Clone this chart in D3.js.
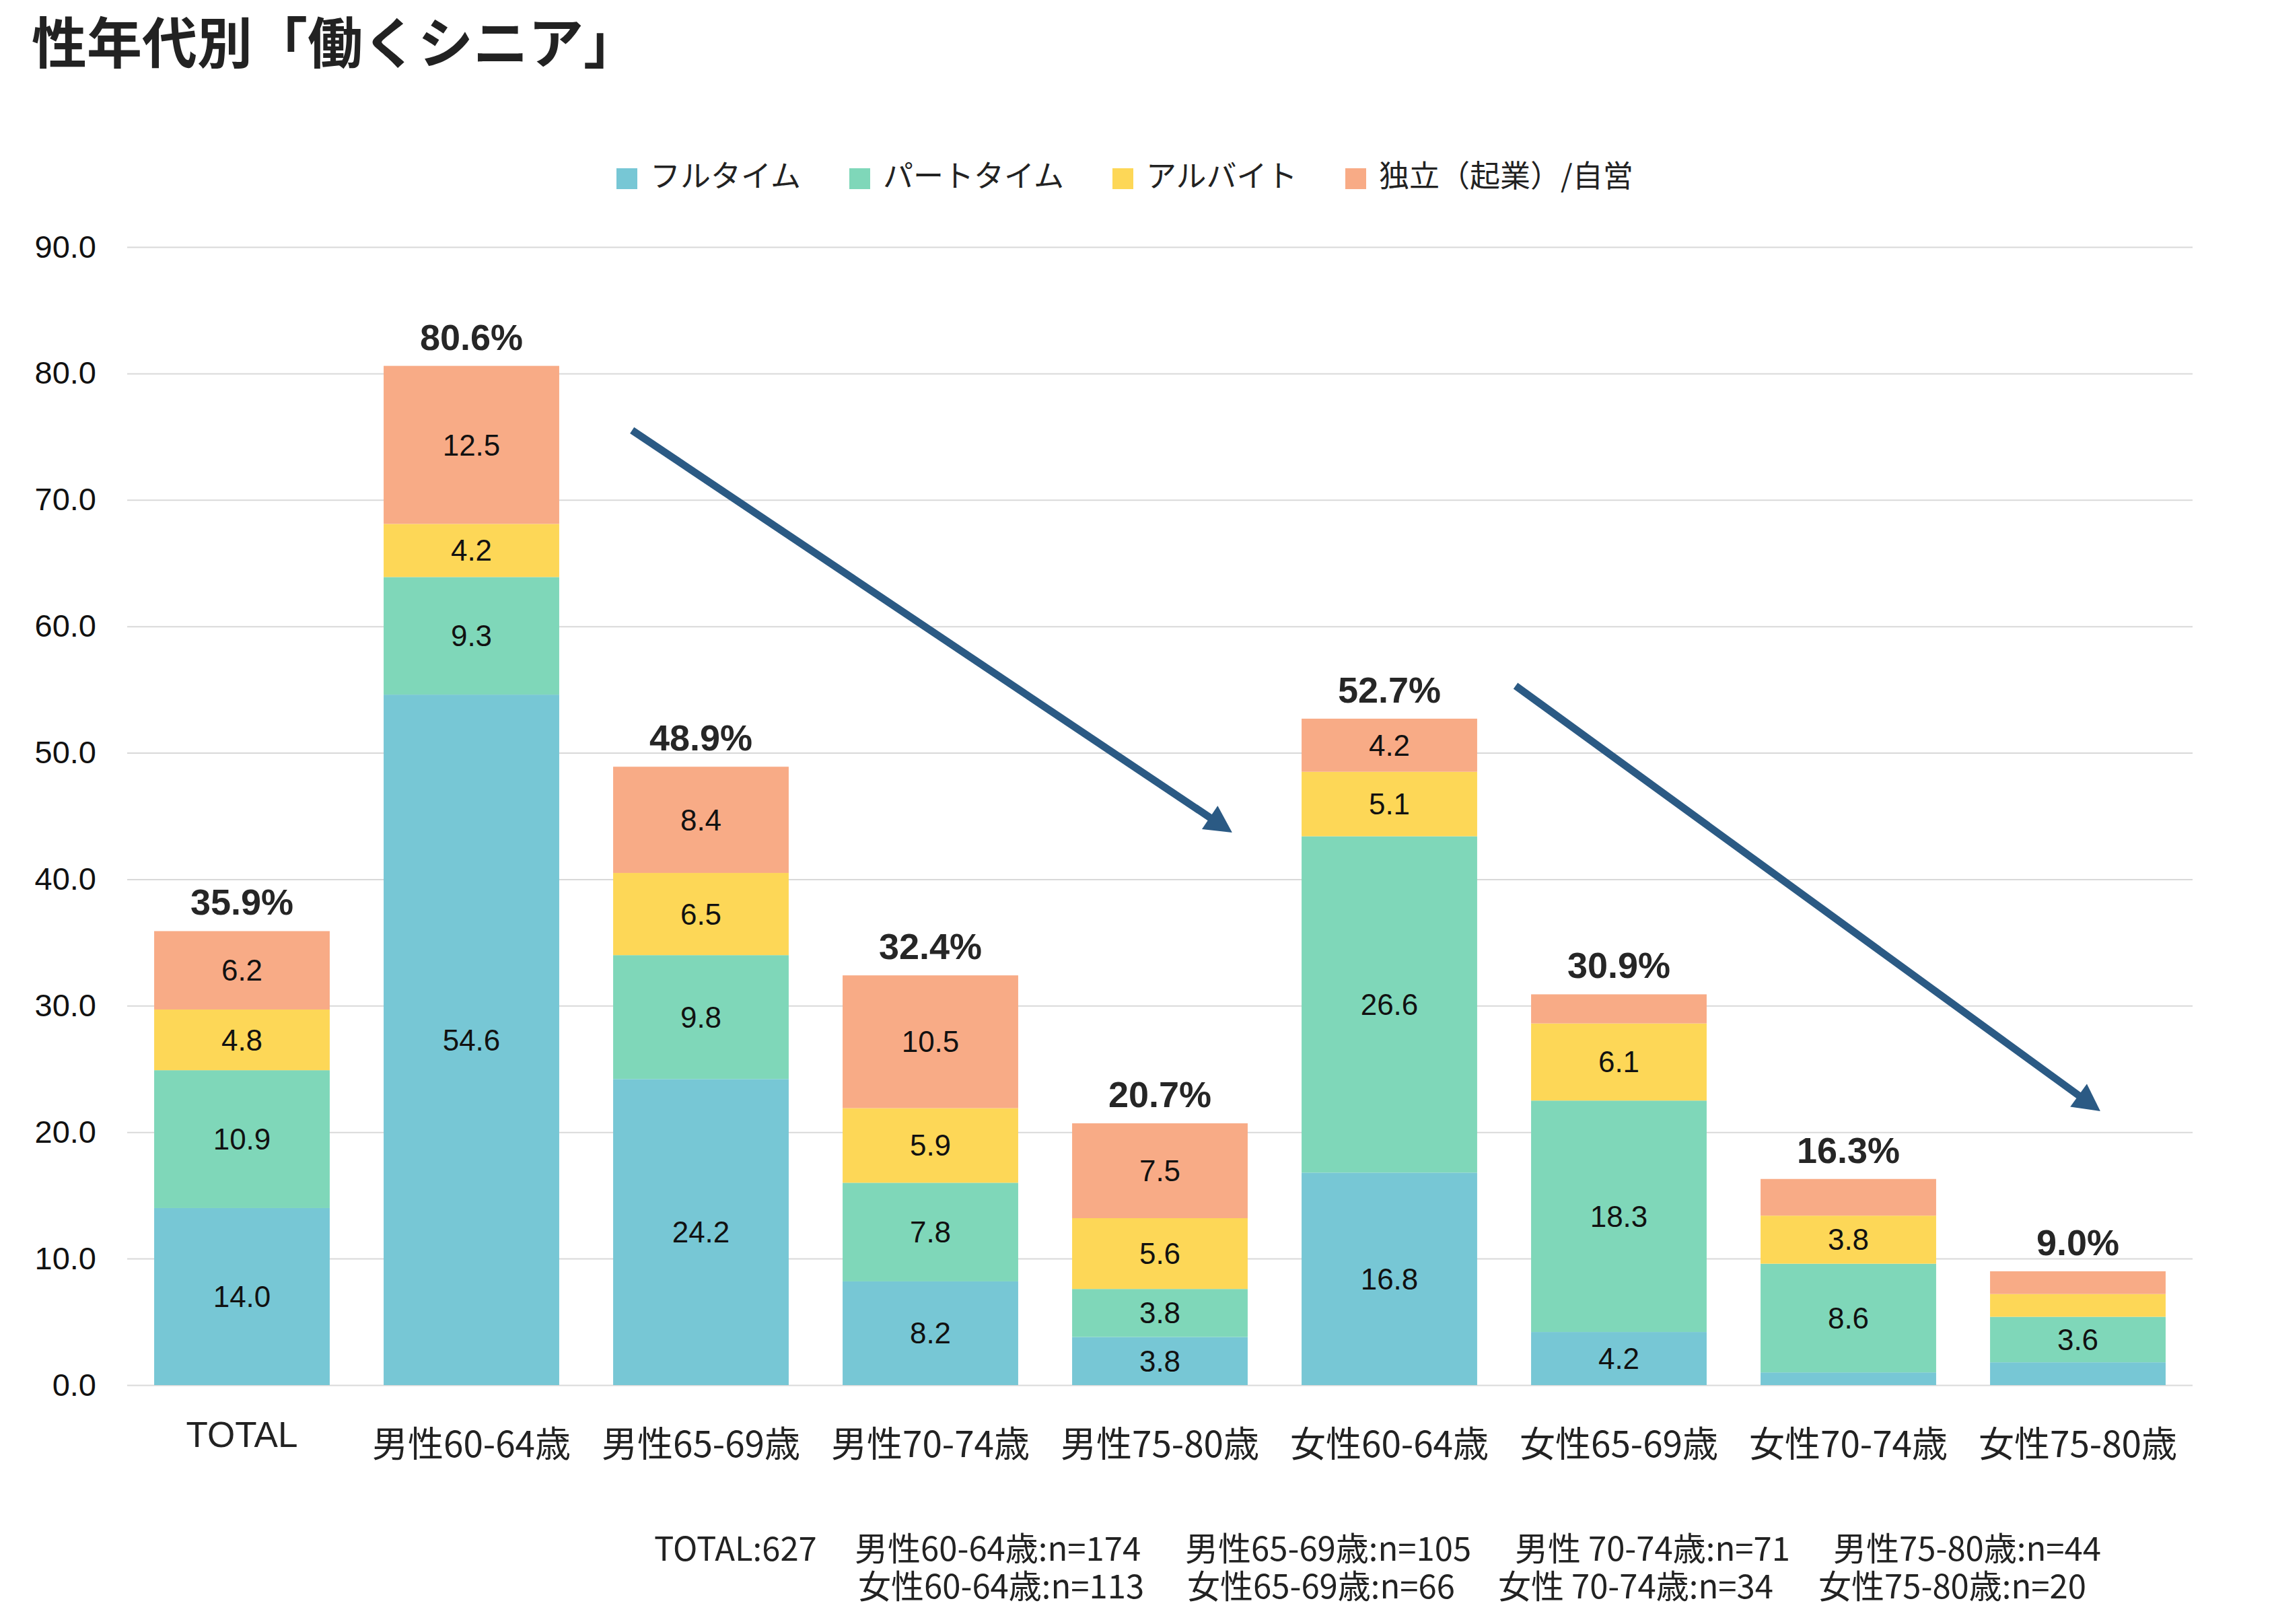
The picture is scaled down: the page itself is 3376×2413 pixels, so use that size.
<!DOCTYPE html>
<html><head><meta charset="utf-8">
<script src="https://cdn.jsdelivr.net/npm/d3@7"></script>
<style>
html,body{margin:0;padding:0;background:#fff;}
svg{display:block;}
</style></head>
<body>
<svg id="chart" width="3376" height="2413"></svg>
<script>
// ---- data ----
const categories = ["TOTAL","男性60-64歳","男性65-69歳","男性70-74歳","男性75-80歳","女性60-64歳","女性65-69歳","女性70-74歳","女性75-80歳"];
const seriesNames = ["フルタイム","パートタイム","アルバイト","独立（起業）/自営"];
const fullTime = [14.0,54.6,24.2,8.2,3.8,16.8,4.2,1.0,1.8];
const partTime = [10.9,9.3,9.8,7.8,3.8,26.6,18.3,8.6,3.6];
const arbeit   = [4.8,4.2,6.5,5.9,5.6,5.1,6.1,3.8,1.8];
const selfEmp  = [6.2,12.5,8.4,10.5,7.5,4.2,2.3,2.9,1.8];
const totals   = [35.9,80.6,48.9,32.4,20.7,52.7,30.9,16.3,9.0];
const yTicks = [0,10,20,30,40,50,60,70,80,90];
const notesLine1 = ["TOTAL:627","男性60-64歳:n=174","男性65-69歳:n=105","男性 70-74歳:n=71","男性75-80歳:n=44"];
const notesLine2 = ["女性60-64歳:n=113","女性65-69歳:n=66","女性 70-74歳:n=34","女性75-80歳:n=20"];
// trend arrows in data units: [category index offset, value]
const arrows = [
  {from:[1.70,75.5], to:[4.315,43.7]},
  {from:[5.55,55.3], to:[8.098,21.66]}
];
const title = "性年代別「働くシニア」";

// ---- layout ----
const colors = ["#77C7D5","#7FD7B9","#FDD757","#F8AB86"];
const arrowColor = "#2B5A84";
const JP = "'Noto Sans CJK JP','Noto Sans',sans-serif";
const LAT = "'Liberation Sans',Arial,sans-serif";
const plot = {left:189, right:3258, top:367, bottom:2058};

const svg = d3.select("#chart");

const x = d3.scaleBand().domain(categories).range([plot.left, plot.right]).paddingInner(0.235).paddingOuter(0.1175);
const y = d3.scaleLinear().domain([0,90]).range([plot.bottom, plot.top]);
const xIdx = v => plot.left + x.step()*x.paddingOuter() + x.bandwidth()/2 + v*x.step();

// title
svg.append("text").attr("x",47).attr("y",58).attr("dominant-baseline","central")
  .style("font-family",JP).style("font-weight","700").style("font-size","82px").style("fill","#222")
  .text(title);

// legend
const legendX = [916,1262,1653,1999];
const lg = svg.append("g");
seriesNames.forEach((n,i)=>{
  lg.append("rect").attr("x",legendX[i]).attr("y",250).attr("width",31).attr("height",31).attr("fill",colors[i]);
  lg.append("text").attr("x",legendX[i]+50).attr("y",258).attr("dominant-baseline","central")
    .style("font-family",JP).style("font-size","45px").style("fill","#222").text(n);
});

// gridlines + y axis
const yAxis = d3.axisLeft(y).tickValues(yTicks).tickFormat(d3.format(".1f"))
  .tickSize(-(plot.right-plot.left)).tickPadding(46);
const ga = svg.append("g").attr("transform",`translate(${plot.left},0)`).call(yAxis);
ga.select(".domain").remove();
ga.selectAll(".tick line").attr("stroke","#D9D9D9").attr("stroke-width",2);
ga.selectAll(".tick text").style("font-family",LAT).style("font-size","47px").style("fill","#111");

// stacked bars
const rows = categories.map((c,i)=>({cat:c, s0:fullTime[i], s1:partTime[i], s2:arbeit[i], s3:selfEmp[i]}));
const stack = d3.stack().keys(["s0","s1","s2","s3"]);
const layers = stack(rows);
const gBars = svg.append("g");
layers.forEach((layer,li)=>{
  const g = gBars.append("g");
  g.selectAll("rect").data(layer).join("rect")
    .attr("x",d=>x(d.data.cat)).attr("width",x.bandwidth())
    .attr("y",d=>y(d[1])).attr("height",d=>y(d[0])-y(d[1]))
    .attr("fill",colors[li]);
  g.selectAll("text").data(layer.filter(d=>(d[1]-d[0])>=3.0)).join("text")
    .attr("x",d=>x(d.data.cat)+x.bandwidth()/2)
    .attr("y",d=>(y(d[0])+y(d[1]))/2)
    .attr("text-anchor","middle").attr("dominant-baseline","central")
    .style("font-family",LAT).style("font-size","44px").style("fill","#111")
    .text(d=>(d[1]-d[0]).toFixed(1));
});

// totals
svg.append("g").selectAll("text").data(categories).join("text")
  .attr("x",d=>x(d)+x.bandwidth()/2)
  .attr("y",(d,i)=>y(d3.sum([fullTime[i],partTime[i],arbeit[i],selfEmp[i]]))-43)
  .attr("text-anchor","middle").attr("dominant-baseline","central")
  .style("font-family",LAT).style("font-weight","700").style("font-size","54px").style("fill","#262626")
  .text((d,i)=>totals[i].toFixed(1)+"%");

// category labels
svg.append("g").selectAll("text").data(categories).join("text")
  .attr("x",d=>x(d)+x.bandwidth()/2)
  .attr("y",(d,i)=> i===0 ? 2131 : 2142)
  .attr("text-anchor","middle").attr("dominant-baseline","central")
  .style("font-family",(d,i)=> i===0 ? LAT : JP).style("font-size","53px").style("fill","#222")
  .text(d=>d);

// arrows: shaft + triangular head
const headLen = 40, headHalf = 21;
const ag = svg.append("g");
arrows.forEach(a=>{
  const x1 = xIdx(a.from[0]), y1 = y(a.from[1]);
  const x2 = xIdx(a.to[0]), y2 = y(a.to[1]);
  const L = Math.hypot(x2-x1, y2-y1), ux = (x2-x1)/L, uy = (y2-y1)/L;
  const bx = x2 - ux*headLen, by = y2 - uy*headLen;
  ag.append("line").attr("x1",x1).attr("y1",y1).attr("x2",bx+ux*4).attr("y2",by+uy*4)
    .attr("stroke",arrowColor).attr("stroke-width",11);
  ag.append("polygon")
    .attr("points",[[x2,y2],[bx-uy*headHalf,by+ux*headHalf],[bx+uy*headHalf,by-ux*headHalf]].map(p=>p.join(",")).join(" "))
    .attr("fill",arrowColor);
});

// sample size notes
const n1X = [972,1270,1761,2251,2724];
const n2X = [1275,1764,2226,2702];
const gn = svg.append("g").style("font-family",JP).style("font-size","49px").style("fill","#222");
notesLine1.forEach((t,i)=> gn.append("text").attr("x",n1X[i]).attr("y",2297).attr("dominant-baseline","central").text(t));
notesLine2.forEach((t,i)=> gn.append("text").attr("x",n2X[i]).attr("y",2353).attr("dominant-baseline","central").text(t));
</script>
</body></html>
